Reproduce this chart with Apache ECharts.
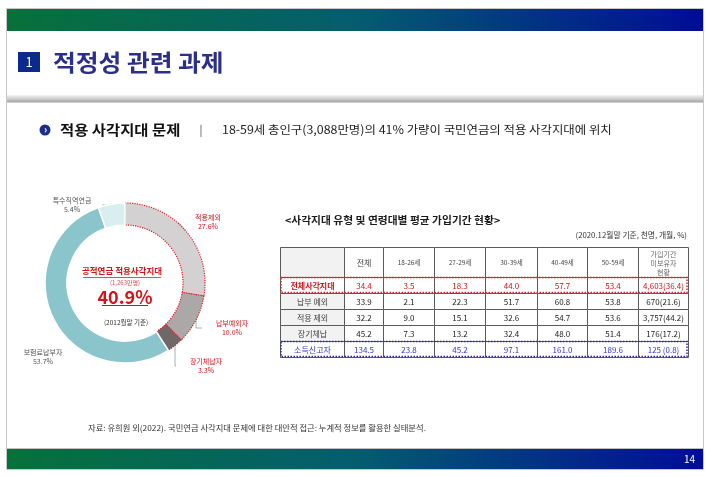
<!DOCTYPE html>
<html><head><meta charset="utf-8">
<script src="https://cdn.jsdelivr.net/npm/echarts@6/dist/echarts.min.js"></script>
<style>html,body{margin:0;padding:0;background:#fff}#c{width:710px;height:477px}</style>
</head><body><div id="c"></div>
<script>
// ---------- data ----------
const donutNames = ['적용제외', '납부예외자', '장기체납자', '보험료납부자', '특수직역연금'];
const donutValues = [27.6, 10.0, 3.3, 53.7, 5.4];
const donutInGap = [true, true, true, false, false];

const headerRow = ['', '전체', '18-26세', '27-29세', '30-39세', '40-49세', '50-59세', '가입기간\n미보유자\n현황'];
const rowLabels = ['전체사각지대', '납부 예외', '적용 제외', '장기체납', '소득신고자'];
const totalAll = [34.4, 33.9, 32.2, 45.2, 134.5];
const age18to26 = [3.5, 2.1, 9.0, 7.3, 23.8];
const age27to29 = [18.3, 22.3, 15.1, 13.2, 45.2];
const age30to39 = [44.0, 51.7, 32.6, 32.4, 97.1];
const age40to49 = [57.7, 60.8, 54.7, 48.0, 161.0];
const age50to59 = [53.4, 53.8, 53.6, 51.4, 189.6];
const noPeriod = ['4,603(36.4)', '670(21.6)', '3,757(44.2)', '176(17.2)', '125 (0.8)'];

// ---------- layout (sizes only) ----------
const FONT = "'Noto Sans CJK KR', sans-serif";
const colWidths = [64, 39, 51, 51, 52, 50, 51, 50];
const rowHeights = [30, 16, 16, 16, 16, 16];
const colEdges = [0]; colWidths.forEach(w => colEdges.push(colEdges[colEdges.length - 1] + w));
const rowEdges = [0]; rowHeights.forEach(h => rowEdges.push(rowEdges[rowEdges.length - 1] + h));
const donutColors = ['#d3d1d2', '#aca8a8', '#6e6868', '#8bc5cc', '#d9eef0'];
const labelSpots = [[208, 222], [232, 328], [206, 366], [43, 357], [72, 205]];

const fmt = v => v.toFixed(1);
const cells = [];
headerRow.forEach((t, c) => cells.push({ value: [c, 0], text: t }));
rowLabels.forEach((lab, i) => {
  const vals = [lab, fmt(totalAll[i]), fmt(age18to26[i]), fmt(age27to29[i]), fmt(age30to39[i]),
    fmt(age40to49[i]), fmt(age50to59[i]), noPeriod[i]];
  vals.forEach((t, c) => cells.push({ value: [c, i + 1], text: t }));
});

function cellStyle(c, r) {
  let fill = '#ffffff', color = '#222', size = 8, weight = 'normal', lh = 10;
  if (r === 0) {
    color = '#444';
    size = (c === 1) ? 8 : 6.5;
    if (c === 7) { size = 7; color = '#666'; lh = 9; }
    if (c === 0) fill = '#f2f2f2';
  } else if (r === 1) {
    color = '#d3121c';
    if (c === 0) weight = 'bold';
  } else if (r === 5) {
    color = '#3535d5';
  } else {
    if (c === 0) { fill = '#f2f2f2'; color = '#444'; }
  }
  return { fill, color, size, weight, lh };
}

function renderCell(params, api) {
  const cell = cells[params.dataIndex];
  const c = cell.value[0], r = cell.value[1];
  const a = api.coord([colEdges[c], rowEdges[r]]);
  const b = api.coord([colEdges[c + 1], rowEdges[r + 1]]);
  const x = Math.round(a[0]) + 0.5, y = Math.round(a[1]) + 0.5;
  const w = Math.round(b[0]) - Math.round(a[0]), h = Math.round(b[1]) - Math.round(a[1]);
  const st = cellStyle(c, r);
  return {
    type: 'group', children: [
      { type: 'rect', shape: { x, y, width: w, height: h }, style: { fill: st.fill, stroke: '#5a5a5a', lineWidth: 1 } },
      { type: 'text', x: x + w / 2, y: y + h / 2 + 0.5, style: {
          text: cell.text, fill: st.color, align: 'center', verticalAlign: 'middle',
          font: st.weight + ' ' + st.size + 'px ' + FONT, lineHeight: st.lh } }
    ]
  };
}

const frameRows = [{ value: [1], color: '#e0202a' }, { value: [5], color: '#2a2aa0' }];
function renderFrame(params, api) {
  const fr = frameRows[params.dataIndex];
  const r = fr.value[0];
  const a = api.coord([colEdges[0], rowEdges[r]]);
  const b = api.coord([colEdges[colEdges.length - 1], rowEdges[r + 1]]);
  return { type: 'rect', shape: { x: a[0] + 1, y: a[1] + 0.5, width: b[0] - a[0] - 2, height: b[1] - a[1] - 1 },
    style: { fill: null, stroke: fr.color, lineWidth: 1.5, lineDash: [1.5, 1.5] } };
}

const barGrad = () => new echarts.graphic.LinearGradient(0, 0, 1, 0, [
  { offset: 0, color: '#07713a' }, { offset: 0.5, color: '#045d6e' }, { offset: 1, color: '#000c98' }]);

const chart = echarts.init(document.getElementById('c'), null, { renderer: 'canvas' });
chart.setOption({
  animation: false,
  backgroundColor: '#ffffff',
  grid: { left: 280, top: 247, width: colEdges[colEdges.length - 1], height: rowEdges[rowEdges.length - 1] },
  xAxis: { type: 'value', min: 0, max: colEdges[colEdges.length - 1], show: false },
  yAxis: { type: 'value', min: 0, max: rowEdges[rowEdges.length - 1], inverse: true, show: false },
  graphic: [
    { type: 'rect', shape: { x: 6.5, y: 8.5, width: 697, height: 461 }, style: { fill: '#fff', stroke: '#c8c8c8', lineWidth: 1 }, z: -10 },
    { type: 'rect', shape: { x: 7, y: 9, width: 696, height: 22 }, style: { fill: barGrad() } },
    { type: 'rect', shape: { x: 7, y: 449, width: 696, height: 20 }, style: { fill: barGrad() } },
    { type: 'rect', shape: { x: 7, y: 448, width: 696, height: 1 }, style: { fill: '#c0c0c0' } },
    { type: 'text', x: 695, y: 459, style: { text: '14', fill: '#fff', font: '10px ' + FONT, align: 'right', verticalAlign: 'middle' } },
    { type: 'rect', shape: { x: 7, y: 95, width: 696, height: 8 }, style: { fill: new echarts.graphic.LinearGradient(0, 0, 0, 1, [
        { offset: 0, color: '#f4f4f4' }, { offset: 0.6, color: '#c4c4c4' }, { offset: 0.8, color: '#a8a8a8' }, { offset: 1, color: '#e2e2e2' }]) } },
    { type: 'rect', shape: { x: 18, y: 52, width: 22, height: 20 }, style: { fill: '#0c2a8c' } },
    { type: 'text', x: 29, y: 62, style: { text: '1', fill: '#fff', font: '13px ' + FONT, align: 'center', verticalAlign: 'middle' } },
    { type: 'text', x: 53, y: 62, scaleX: 1.1, style: { text: '적정성 관련 과제', fill: '#2c2f8a', font: 'bold 22.5px ' + FONT, align: 'left', verticalAlign: 'middle' } },
    { type: 'circle', shape: { cx: 45, cy: 130, r: 5.5 }, style: { fill: '#1a2c8e' } },
    { type: 'text', x: 45.5, y: 129.5, style: { text: '›', fill: '#fff', font: 'bold 10px ' + FONT, align: 'center', verticalAlign: 'middle' } },
    { type: 'text', x: 60, y: 130, scaleX: 1.1, style: { text: '적용 사각지대 문제', fill: '#111', font: 'bold 14px ' + FONT, align: 'left', verticalAlign: 'middle' } },
    { type: 'text', x: 201, y: 130, style: { text: '|', fill: '#444', font: '11px ' + FONT, align: 'center', verticalAlign: 'middle' } },
    { type: 'text', x: 222, y: 130, scaleX: 1.07, style: { text: '18-59세 총인구(3,088만명)의 41% 가량이 국민연금의 적용 사각지대에 위치', fill: '#222', font: '11.6px ' + FONT, align: 'left', verticalAlign: 'middle' } },
    // donut center texts
    { type: 'text', x: 122, y: 271, style: { text: '공적연금 적용사각지대', fill: '#d3121c', font: 'bold 8.5px ' + FONT, align: 'center', verticalAlign: 'middle' } },
    { type: 'rect', shape: { x: 83, y: 277, width: 78, height: 0.8 }, style: { fill: '#d3121c' } },
    { type: 'text', x: 125, y: 283, style: { text: '(1,263만명)', fill: '#d84a50', font: '6px ' + FONT, align: 'center', verticalAlign: 'middle' } },
    { type: 'text', x: 125, y: 297, style: { text: '40.9%', fill: '#d3121c', font: 'bold 18px ' + FONT, align: 'center', verticalAlign: 'middle' } },
    { type: 'rect', shape: { x: 102, y: 305, width: 46, height: 1 }, style: { fill: '#d3121c' } },
    { type: 'text', x: 126, y: 322.5, style: { text: '(2012월말 기준)', fill: '#333', font: '6.5px ' + FONT, align: 'center', verticalAlign: 'middle' } },
    // table title
    { type: 'text', x: 285, y: 220, scaleX: 1.075, style: { text: '<사각지대 유형 및 연령대별 평균 가입기간 현황>', fill: '#1a1a1a', font: 'bold 10px ' + FONT, align: 'left', verticalAlign: 'middle' } },
    { type: 'text', x: 687, y: 235, scaleX: 1.04, style: { text: '(2020.12월말 기준, 천명, 개월, %)', fill: '#333', font: '7.5px ' + FONT, align: 'right', verticalAlign: 'middle' } },
    // source
    { type: 'text', x: 88, y: 428, scaleX: 1.037, style: { text: '자료: 유희원 외(2022). 국민연금 사각지대 문제에 대한 대안적 접근: 누계적 정보를 활용한 실태분석.', fill: '#333', font: '8px ' + FONT, align: 'left', verticalAlign: 'middle' } }
  ],
  series: [
    {
      type: 'pie', center: [125, 283], radius: [58, 80], startAngle: 90, clockwise: true, silent: true,
      data: donutNames.map((n, i) => ({
        name: n, value: donutValues[i],
        itemStyle: { color: donutColors[i], borderColor: donutInGap[i] ? '#e0202a' : '#ffffff',
          borderType: donutInGap[i] ? 'dotted' : 'solid', borderWidth: donutInGap[i] ? 1.2 : 1.5 },
        label: { color: donutInGap[i] ? '#d3121c' : '#555' },
        labelLine: { show: i !== 3 }
      })),
      label: { show: true, position: 'outside', formatter: p => p.name + '\n' + p.value.toFixed(1) + '%',
        fontSize: 7, lineHeight: 9, fontFamily: FONT, align: 'center', overflow: 'none', width: 60 },
      labelLine: { show: true, length: 8, length2: 6, lineStyle: { color: '#9a9a9a', width: 0.8 } },
      labelLayout: p => ({ x: labelSpots[p.dataIndex][0], y: labelSpots[p.dataIndex][1], align: 'center', verticalAlign: 'middle' })
    },
    { type: 'custom', coordinateSystem: 'cartesian2d', renderItem: renderCell, data: cells, silent: true, z: 2 },
    { type: 'custom', coordinateSystem: 'cartesian2d', renderItem: renderFrame, data: frameRows, silent: true, z: 3 }
  ]
});
</script></body></html>
